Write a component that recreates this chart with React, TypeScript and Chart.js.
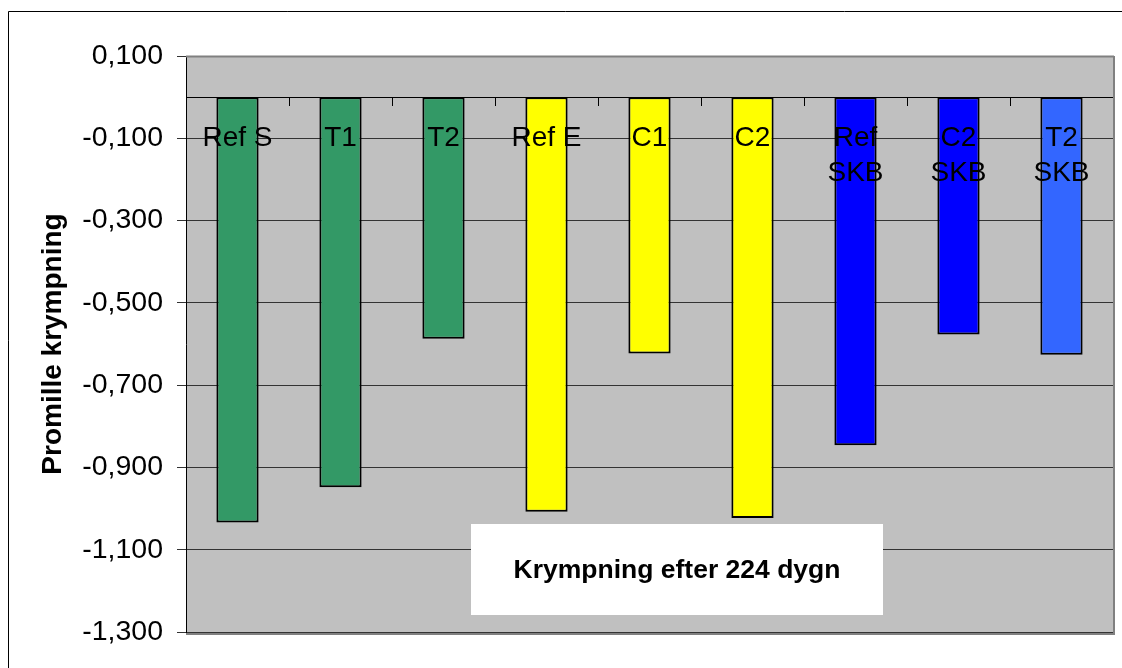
import { useEffect, useRef } from "react";
import { Chart, registerables } from "chart.js";

Chart.register(...registerables);

// Shrinkage (per mille) after 224 days, per mix
const categories: (string | string[])[] = [
  "Ref S",
  "T1",
  "T2",
  "Ref E",
  "C1",
  "C2",
  ["Ref", "SKB"],
  ["C2", "SKB"],
  ["T2", "SKB"],
];
const shrinkage = [-1.034, -0.948, -0.587, -1.008, -0.623, -1.023, -0.846, -0.577, -0.626];
const barColors = [
  "#339966",
  "#339966",
  "#339966",
  "#FFFF00",
  "#FFFF00",
  "#FFFF00",
  "#0000FF",
  "#0000FF",
  "#3366FF",
];
const yMin = -1.3;
const yMax = 0.1;
const yStep = 0.2;
const yTitle = "Promille krympning";
const boxText = "Krympning efter 224 dygn";

const FONT = "'Liberation Sans', Arial, Helvetica, sans-serif";

const decor = {
  id: "excelDecor",
  beforeDraw(chart: Chart) {
    const { ctx, chartArea: a } = chart;
    ctx.save();
    // outer chart frame
    ctx.strokeStyle = "#000";
    ctx.lineWidth = 1;
    ctx.beginPath();
    ctx.moveTo(8.5, 2000);
    ctx.lineTo(8.5, 11.5);
    ctx.lineTo(2000, 11.5);
    ctx.stroke();
    // plot area fill
    ctx.fillStyle = "#C0C0C0";
    ctx.fillRect(a.left, a.top, a.right - a.left, a.bottom - a.top);
    ctx.restore();
  },
  afterDraw(chart: Chart) {
    const { ctx, chartArea: a } = chart;
    ctx.save();
    // plot area shadow edges
    ctx.strokeStyle = "#808080";
    ctx.lineWidth = 2;
    ctx.beginPath();
    ctx.moveTo(a.left, a.top + 0.5);
    ctx.lineTo(a.right + 1, a.top + 0.5);
    ctx.moveTo(a.right + 1, a.top);
    ctx.lineTo(a.right + 1, a.bottom + 2);
    ctx.lineTo(a.left, a.bottom + 2);
    ctx.stroke();
    // caption box
    const bx = a.left + 285;
    const by = a.top + 468;
    const bw = 412;
    const bh = 91;
    ctx.fillStyle = "#FFFFFF";
    ctx.fillRect(bx, by, bw, bh);
    ctx.fillStyle = "#000";
    ctx.font = `bold 26.5px ${FONT}`;
    ctx.textAlign = "center";
    ctx.textBaseline = "middle";
    ctx.fillText(boxText, bx + bw / 2, by + 47);
    ctx.restore();
  },
};

export default function App() {
  const ref = useRef<HTMLCanvasElement | null>(null);

  useEffect(() => {
    if (!ref.current) return;
    const chart = new Chart(ref.current, {
      type: "bar",
      data: {
        labels: categories,
        datasets: [
          {
            data: shrinkage,
            backgroundColor: barColors,
            borderColor: "#000",
            borderWidth: 2,
            borderSkipped: false,
            barPercentage: 0.41,
            categoryPercentage: 1,
          },
        ],
      },
      options: {
        responsive: false,
        animation: false,
        devicePixelRatio: 1,
        layout: { padding: { left: 0, top: 56, right: 9, bottom: 36 } },
        plugins: {
          legend: { display: false },
          tooltip: { enabled: false },
        },
        scales: {
          x: {
            position: { y: 0 },
            offset: true,
            grid: {
              display: true,
              offset: true,
              drawOnChartArea: false,
              drawTicks: true,
              tickLength: 8,
              color: "#000",
              z: 1,
            },
            border: { display: true, color: "#000", width: 1, z: 1 },
            ticks: {
              z: 1,
              color: "#000",
              font: { family: FONT, size: 28, lineHeight: 1.25 },
              padding: 16,
              maxRotation: 0,
              autoSkip: false,
            },
          },
          y: {
            min: yMin,
            max: yMax,
            afterFit: (scale: any) => {
              scale.width = 186;
            },
            grid: {
              color: "#333",
              lineWidth: 1,
              drawTicks: true,
              tickLength: 9,
            },
            border: { display: true, color: "#000", width: 1 },
            ticks: {
              stepSize: yStep,
              color: "#000",
              padding: 14,
              font: { family: FONT, size: 28.5 },
              callback: (v: any) => Number(v).toFixed(3).replace(".", ","),
            },
            title: {
              display: true,
              text: yTitle,
              color: "#000",
              font: { family: FONT, size: 28, weight: "bold" },
              padding: { top: 36, bottom: 0 },
            },
          },
        },
      },
      plugins: [decor],
    });
    return () => chart.destroy();
  }, []);

  return (
    <div style={{ position: "fixed", left: 0, top: 0, width: 1122, height: 668, background: "#fff" }}>
      <canvas ref={ref} width={1122} height={668} />
    </div>
  );
}
